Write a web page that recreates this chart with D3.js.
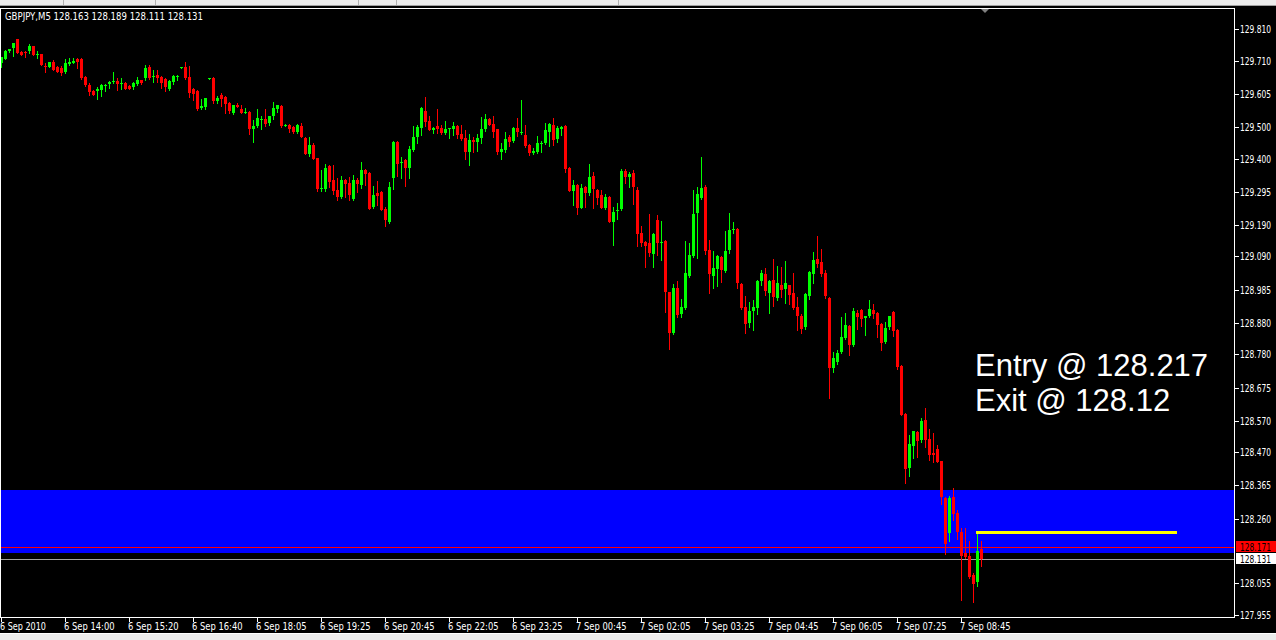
<!DOCTYPE html>
<html>
<head>
<meta charset="utf-8">
<script src="https://d3js.org/d3.v7.min.js"></script>
<style>
body{margin:0;background:#000;overflow:hidden}
svg text{font-family:"DejaVu Sans Condensed","DejaVu Sans",sans-serif;font-size:10px;fill:#fff}
</style>
</head>
<body>
<div id="content"></div>
<script>
const symbol = "GBPJPY,M5";
// open, high, low, close per M5 bar
const candles = [
[129.702,129.721,129.691,129.721],[129.716,129.744,129.715,129.741],[129.739,129.747,129.738,129.747],[129.750,129.765,129.725,129.765],
[129.778,129.779,129.733,129.734],[129.737,129.741,129.727,129.728],[129.738,129.741,129.721,129.733],[129.741,129.763,129.733,129.756],
[129.756,129.757,129.727,129.728],[129.729,129.741,129.719,129.731],[129.731,129.732,129.696,129.697],[129.693,129.703,129.675,129.690],
[129.690,129.706,129.689,129.706],[129.706,129.712,129.680,129.681],[129.690,129.693,129.674,129.675],[129.687,129.693,129.665,129.671],
[129.674,129.716,129.671,129.703],[129.699,129.718,129.696,129.706],[129.703,129.718,129.701,129.709],[129.715,129.717,129.687,129.706],
[129.715,129.718,129.652,129.655],[129.658,129.661,129.629,129.633],[129.633,129.639,129.601,129.611],[129.614,129.617,129.600,129.601],
[129.614,129.627,129.589,129.620],[129.617,129.635,129.598,129.633],[129.631,129.635,129.614,129.633],[129.636,129.644,129.623,129.642],
[129.642,129.674,129.638,129.644],[129.646,129.655,129.617,129.636],[129.638,129.655,129.620,129.640],[129.639,129.641,129.619,129.620],
[129.630,129.632,129.619,129.621],[129.627,129.641,129.620,129.639],[129.636,129.658,129.633,129.649],[129.649,129.650,129.636,129.639],
[129.655,129.696,129.649,129.687],[129.690,129.696,129.652,129.655],[129.660,129.680,129.642,129.662],[129.665,129.680,129.642,129.655],
[129.658,129.660,129.623,129.639],[129.652,129.655,129.614,129.627],[129.620,129.647,129.617,129.646],[129.642,129.663,129.636,129.661],
[129.660,129.663,129.649,129.662],[129.689,129.691,129.688,129.690],[129.690,129.706,129.652,129.655],[129.658,129.693,129.595,129.608],
[129.620,129.622,129.585,129.604],[129.614,129.616,129.554,129.557],[129.560,129.589,129.557,129.566],[129.563,129.593,129.557,129.592],
[129.653,129.656,129.652,129.655],[129.655,129.657,129.576,129.582],[129.582,129.598,129.576,129.592],[129.601,129.608,129.566,129.589],
[129.595,129.597,129.544,129.573],[129.576,129.578,129.544,129.551],[129.544,129.571,129.542,129.570],[129.570,129.576,129.562,129.563],
[129.557,129.570,129.543,129.544],[129.545,129.560,129.544,129.547],[129.547,129.549,129.478,129.494],[129.494,129.522,129.452,129.503],
[129.503,129.557,129.501,129.528],[129.524,129.535,129.494,129.526],[129.525,129.557,129.503,129.509],[129.513,129.536,129.506,129.535],
[129.535,129.579,129.525,129.560],[129.557,129.571,129.547,129.570],[129.566,129.570,129.501,129.503],[129.505,129.509,129.504,129.506],
[129.506,129.508,129.484,129.494],[129.500,129.502,129.481,129.484],[129.484,129.508,129.482,129.506],[129.503,129.513,129.467,129.468],
[129.465,129.467,129.413,129.414],[129.414,129.468,129.408,129.443],[129.443,129.449,129.397,129.399],[129.402,129.403,129.297,129.304],
[129.305,129.364,129.297,129.307],[129.304,129.383,129.297,129.370],[129.377,129.378,129.310,129.326],[129.332,129.380,129.288,129.297],
[129.301,129.339,129.269,129.278],[129.278,129.345,129.276,129.332],[129.332,129.334,129.278,129.320],[129.323,129.342,129.269,129.285],
[129.272,129.348,129.269,129.332],[129.332,129.339,129.294,129.320],[129.316,129.389,129.307,129.364],[129.364,129.367,129.316,129.351],
[129.354,129.356,129.239,129.240],[129.247,129.313,129.244,129.285],[129.291,129.329,129.253,129.282],[129.294,129.296,129.236,129.237],
[129.240,129.247,129.187,129.206],[129.199,129.326,129.197,129.310],[129.339,129.454,129.304,129.452],[129.452,129.454,129.345,129.383],
[129.388,129.405,129.339,129.390],[129.395,129.399,129.313,129.370],[129.370,129.440,129.339,129.430],[129.427,129.503,129.425,129.468],
[129.468,129.506,129.449,129.500],[129.497,129.563,129.475,129.560],[129.551,129.595,129.503,129.516],[129.519,129.535,129.489,129.490],
[129.490,129.500,129.481,129.497],[129.503,129.557,129.481,129.494],[129.497,129.506,129.479,129.481],[129.481,129.519,129.479,129.494],
[129.495,129.498,129.465,129.497],[129.494,129.516,129.475,129.503],[129.503,129.505,129.465,129.475],[129.478,129.506,129.460,129.462],
[129.465,129.490,129.399,129.421],[129.421,129.478,129.380,129.459],[129.459,129.468,129.421,129.452],[129.452,129.478,129.424,129.465],
[129.465,129.532,129.449,129.494],[129.494,129.541,129.487,129.525],[129.525,129.527,129.505,129.506],[129.509,129.535,129.468,129.484],
[129.494,129.495,129.414,129.421],[129.421,129.449,129.399,129.430],[129.427,129.484,129.421,129.462],[129.468,129.475,129.440,129.452],
[129.456,129.500,129.452,129.497],[129.497,129.528,129.471,129.484],[129.483,129.585,129.478,129.485],[129.475,129.506,129.438,129.440],
[129.443,129.445,129.411,129.418],[129.418,129.434,129.415,129.424],[129.421,129.472,129.419,129.449],[129.448,129.456,129.421,129.450],
[129.449,129.513,129.447,129.490],[129.484,129.513,129.440,129.509],[129.506,129.528,129.443,129.459],[129.462,129.503,129.452,129.497],
[129.494,129.502,129.475,129.500],[129.503,129.506,129.358,129.367],[129.370,129.373,129.296,129.297],[129.297,129.332,129.253,129.316],
[129.316,129.318,129.225,129.244],[129.244,129.320,129.242,129.307],[129.310,129.312,129.247,129.291],[129.291,129.383,129.285,129.342],
[129.345,129.358,129.244,129.304],[129.301,129.302,129.256,129.275],[129.285,129.301,129.242,129.244],[129.244,129.288,129.240,129.278],
[129.278,129.280,129.198,129.199],[129.199,129.247,129.126,129.231],[129.236,129.259,129.209,129.238],[129.240,129.367,129.237,129.361],
[129.361,129.367,129.323,129.342],[129.342,129.358,129.310,129.351],[129.354,129.364,129.256,129.310],[129.301,129.310,129.123,129.161],
[129.164,129.187,129.123,129.133],[129.136,129.138,129.057,129.123],[129.133,129.225,129.092,129.101],[129.098,129.163,129.057,129.161],
[129.206,129.221,129.095,129.133],[129.134,129.202,129.079,129.136],[129.139,129.141,128.914,128.978],[128.978,128.979,128.797,128.848],
[128.848,129.003,128.846,128.990],[128.990,129.012,128.899,128.905],[128.908,128.955,128.899,128.930],[128.927,129.139,128.925,129.038],
[129.028,129.133,129.026,129.095],[129.092,129.301,129.088,129.225],[129.228,129.310,129.085,129.288],[129.275,129.405,129.273,129.307],
[129.310,129.316,129.098,129.107],[129.111,129.142,128.975,129.035],[129.028,129.107,128.990,129.054],[129.050,129.095,128.997,129.092],
[129.088,129.090,129.009,129.047],[129.044,129.171,129.042,129.107],[129.111,129.228,129.101,129.174],[129.175,129.199,129.164,129.177],
[129.177,129.180,128.990,129.006],[129.003,129.005,128.925,128.927],[128.930,128.965,128.848,128.876],[128.880,128.946,128.867,128.917],
[128.917,128.952,128.857,128.930],[128.927,129.014,128.908,129.013],[129.013,129.047,129.000,129.038],[129.035,129.054,128.968,128.981],
[128.975,129.014,128.911,129.013],[129.016,129.082,128.933,128.962],[128.959,129.060,128.952,129.006],[129.000,129.057,128.962,128.984],
[128.987,129.076,128.943,129.006],[129.000,129.001,128.940,128.968],[128.975,129.038,128.925,128.927],[128.930,128.962,128.857,128.902],
[128.902,128.908,128.848,128.860],[128.867,128.975,128.860,128.971],[128.965,129.043,128.955,129.041],[129.035,129.104,129.006,129.079],
[129.082,129.155,129.057,129.066],[129.073,129.114,129.028,129.035],[129.038,129.047,128.959,128.965],[128.959,128.962,128.642,128.737],
[128.737,128.788,128.724,128.769],[128.756,128.794,128.750,128.785],[128.788,128.899,128.785,128.835],[128.832,128.911,128.830,128.873],
[128.870,128.872,128.778,128.810],[128.810,128.927,128.807,128.917],[128.911,128.921,128.861,128.899],[128.921,128.924,128.870,128.892],
[128.895,128.903,128.842,128.902],[128.902,128.952,128.899,128.924],[128.921,128.940,128.895,128.908],[128.911,128.913,128.835,128.873],
[128.876,128.878,128.794,128.816],[128.819,128.883,128.817,128.864],[128.867,128.903,128.860,128.902],[128.914,128.917,128.838,128.854],
[128.857,128.859,128.734,128.740],[128.743,128.745,128.587,128.588],[128.591,128.593,128.373,128.417],[128.420,128.525,128.395,128.497],
[128.490,128.539,128.452,128.538],[128.534,128.536,128.455,128.506],[128.509,128.579,128.503,128.569],[128.572,128.610,128.487,128.509],
[128.512,128.544,128.446,128.462],[128.468,128.531,128.440,128.462],[128.481,128.493,128.439,128.440],[128.443,128.444,128.307,128.329],
[128.326,128.327,128.148,128.180],[128.215,128.332,128.189,128.326],[128.329,128.357,128.256,128.275],[128.278,128.288,128.196,128.218],
[128.218,128.231,128.003,128.142],[128.151,128.231,128.136,128.139],[128.142,128.189,128.072,128.075],[128.082,128.088,127.996,128.053],
[128.060,128.215,128.047,128.158],[128.163,128.189,128.111,128.131]
];
const timeLabels = ["6 Sep 2010","6 Sep 14:00","6 Sep 15:20","6 Sep 16:40","6 Sep 18:05","6 Sep 19:25","6 Sep 20:45","6 Sep 22:05",
  "6 Sep 23:25","7 Sep 00:45","7 Sep 02:05","7 Sep 03:25","7 Sep 04:45","7 Sep 06:05","7 Sep 07:25","7 Sep 08:45"];
const timeBars = [0,16,32,48,64,80,96,112,128,144,160,176,192,208,224,240];
const priceLabels = ["129.810","129.710","129.605","129.500","129.400","129.295","129.190","129.090","128.985",
  "128.880","128.780","128.675","128.570","128.470","128.365","128.260","128.055","127.955"];
const askPrice = 128.171, bidPrice = 128.131;
const entryPrice = 128.217, exitPrice = 128.12;
const zoneHigh = 128.351, zoneLow = 128.151;
const entryBars = [244, 293.5];

const w = 1276, h = 640;
const plotRight = 1234, plotTop = 8, plotBottom = 617;
let xScale = d3.scaleLinear().domain([0,308]).range([1,1233]);
let yScale = d3.scaleLinear().domain([129.810,127.955]).range([29,615]);
const Y = v => Math.round(yScale(v));
const X = i => Math.round(xScale(i));
// squeeze small labels to the width of the terminal's narrow font
const fit = (sel, len) => sel.attr("textLength", len).attr("lengthAdjust","spacingAndGlyphs");

const svg = d3.select("#content").append("svg").attr("width",w).attr("height",h)
  .style("display","block").attr("shape-rendering","crispEdges");
svg.append("rect").attr("width",w).attr("height",h).attr("fill","#000");

// window chrome top / bottom
svg.append("rect").attr("width",w).attr("height",6).attr("fill","#ececec");
svg.append("rect").attr("y",5).attr("width",w).attr("height",1).attr("fill","#a0a0a0");
svg.selectAll(".sep").data([63,155,358,396,618]).enter().append("rect")
  .attr("x",d=>d).attr("width",1).attr("height",5).attr("fill","#b0b0b0");
svg.append("rect").attr("y",633).attr("width",w).attr("height",7).attr("fill","#ececec");
svg.append("rect").attr("y",633).attr("width",w).attr("height",1).attr("fill","#fff");

// zone
svg.append("rect").attr("x",1).attr("width",plotRight-1)
  .attr("y",Y(zoneHigh)).attr("height",Y(zoneLow)-Y(zoneHigh)).attr("fill","#0000ff");

// bid / ask lines
svg.append("rect").attr("x",1).attr("width",plotRight-1).attr("y",Y(askPrice)).attr("height",1).attr("fill","#ff0000");
svg.append("rect").attr("x",1).attr("width",plotRight-1).attr("y",Y(bidPrice)).attr("height",1).attr("fill","#a0a0a0");

// candles
let bars = svg.append("g").selectAll("g").data(candles).enter().append("g")
  .attr("fill",d=>d[3]>=d[0]?"#00ff00":"#ff0000");
bars.append("rect").attr("x",(d,i)=>X(i)).attr("width",1)
  .attr("y",d=>Y(d[1])).attr("height",d=>Y(d[2])-Y(d[1])+1);
bars.append("rect").attr("x",(d,i)=>X(i)-1).attr("width",3)
  .attr("y",d=>Y(Math.max(d[0],d[3])))
  .attr("height",d=>Math.max(1,Y(Math.min(d[0],d[3]))-Y(Math.max(d[0],d[3]))));

// entry line
svg.append("line").attr("x1",X(entryBars[0])).attr("x2",X(entryBars[1]))
  .attr("y1",Y(entryPrice)+0.5).attr("y2",Y(entryPrice)+0.5)
  .attr("stroke","#ffff00").attr("stroke-width",3).attr("stroke-linecap","square");

// frame
svg.append("rect").attr("x",0.5).attr("y",plotTop+0.5).attr("width",plotRight).attr("height",plotBottom-plotTop)
  .attr("fill","none").attr("stroke","#fff");
svg.append("path").attr("d","M981,9L989,9L985,13Z").attr("fill","#808080").attr("shape-rendering","auto");

// price axis
let yAxis = svg.append("g").attr("id","y-axis");
yAxis.selectAll("rect").data(priceLabels).enter().append("rect")
  .attr("x",plotRight+1).attr("y",d=>Y(+d)).attr("width",4).attr("height",1).attr("fill","#fff");
fit(yAxis.selectAll("text").data(priceLabels).enter().append("text")
  .attr("x",1240).attr("y",d=>Y(+d)+4).text(d=>d), 31);

// bid / ask labels
[[askPrice,"#ff0000","#000"],[bidPrice,"#ffffff","#000"]].forEach(([p,bg,fg])=>{
  svg.append("rect").attr("x",1236).attr("y",Y(p)-6).attr("width",40).attr("height",11).attr("fill",bg);
  fit(svg.append("text").attr("x",1240).attr("y",Y(p)+4).style("fill",fg).text(p.toFixed(3)), 31);
});

// time axis
let xAxis = svg.append("g").attr("id","x-axis");
xAxis.selectAll("rect").data(timeBars).enter().append("rect")
  .attr("x",d=>X(d)).attr("y",plotBottom+1).attr("width",1).attr("height",4).attr("fill","#fff");
xAxis.selectAll("text").data(timeLabels).enter().append("text")
  .attr("x",(d,i)=>X(timeBars[i])-1).attr("y",630).text(d=>d)
  .attr("textLength",d=>d.length*4.6).attr("lengthAdjust","spacingAndGlyphs");

// header
let last = candles[candles.length-1];
fit(svg.append("text").attr("x",5).attr("y",20)
  .text(symbol+"  "+last.map(v=>v.toFixed(3)).join(" ")), 198);

// notes
svg.append("text").attr("x",975).attr("y",376).style("font-family","'Liberation Sans',Arial,sans-serif")
  .style("font-size","31px").text("Entry @ "+entryPrice);
svg.append("text").attr("x",975).attr("y",411).style("font-family","'Liberation Sans',Arial,sans-serif")
  .style("font-size","31px").text("Exit @ "+exitPrice);
</script>
</body>
</html>
